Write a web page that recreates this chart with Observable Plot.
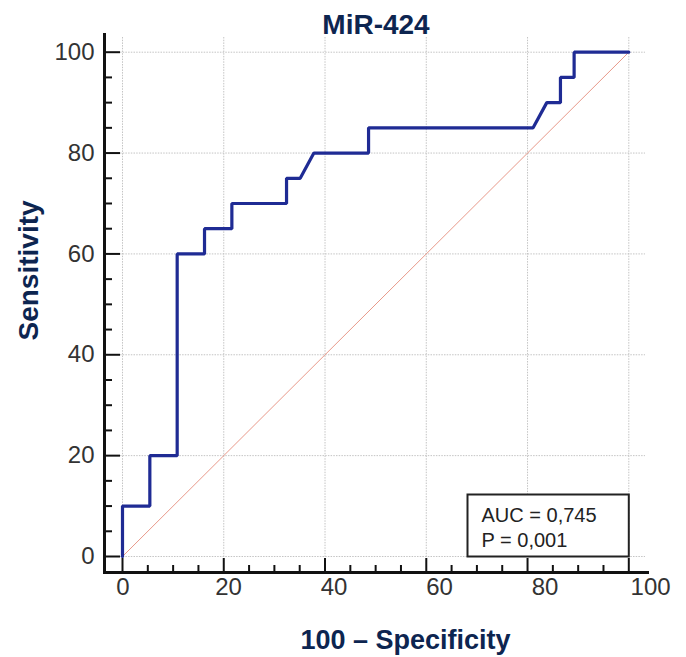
<!DOCTYPE html>
<html><head><meta charset="utf-8">
<script src="https://cdn.jsdelivr.net/npm/d3@7"></script>
<script src="https://cdn.jsdelivr.net/npm/@observablehq/plot@0.6"></script>
<style>body{margin:0;background:#fff} #chart svg{display:block}</style>
</head><body><div id="chart"></div>
<script>
// ROC curve (100 - Specificity, Sensitivity)
const fpr = [0,0,5.4,5.4,10.8,10.8,16.2,16.2,21.6,21.6,32.4,32.4,35.1,37.8,48.6,48.6,81.1,83.8,86.5,86.5,89.2,89.2,100];
const tpr = [0,10,10,20,20,60,60,65,65,70,70,75,75,80,80,85,85,90,90,95,95,100,100];
const diagonal = [0, 100];
const majorTicks = [0,20,40,60,80,100];
const minorTicks = [5,10,15,25,30,35,45,50,55,65,70,75,85,90,95];
const chartTitle = "MiR-424";
const xLabel = "100 – Specificity";
const yLabel = "Sensitivity";
const statLines = ["AUC = 0,745", "P = 0,001"];

const W = 686, H = 657;
const mL = 104, mR = 39, mT = 34, mB = 85;
const frameW = W - mL - mR, frameH = H - mT - mB;
const font = "'Liberation Sans', Arial, Helvetica, sans-serif";
const navy = "#0d2550";

const roc = fpr.map((x, i) => ({x, y: tpr[i]}));

const chart = Plot.plot({
  width: W, height: H,
  marginLeft: mL, marginRight: mR, marginTop: mT, marginBottom: mB,
  style: {fontFamily: font, background: "white"},
  x: {domain: [0, 100], insetLeft: 18, insetRight: 18.7, axis: null},
  y: {domain: [0, 100], insetTop: 17.7, insetBottom: 16, axis: null},
  marks: [
    // grid
    Plot.ruleY(majorTicks, {y: d => d, insetLeft: 16, insetRight: 2, stroke: "#c4c4c4", strokeDasharray: "1.5,1.2"}),
    Plot.ruleX(majorTicks, {x: d => d, insetTop: 3, insetBottom: 14, stroke: "#c4c4c4", strokeDasharray: "1.5,1.2"}),
    // ticks
    Plot.ruleX(majorTicks, {x: d => d, insetTop: frameH - 14, stroke: "#111", strokeWidth: 2}),
    Plot.ruleX(minorTicks, {x: d => d, insetTop: frameH - 7, stroke: "#111", strokeWidth: 2}),
    Plot.ruleY(majorTicks, {y: d => d, insetRight: frameW - 16, stroke: "#111", strokeWidth: 2}),
    Plot.ruleY(minorTicks, {y: d => d, insetRight: frameW - 8, stroke: "#111", strokeWidth: 2}),
    // axis lines
    Plot.frame({anchor: "left", stroke: "#111", strokeWidth: 3}),
    Plot.frame({anchor: "bottom", stroke: "#111", strokeWidth: 3}),
    // tick labels
    Plot.text(majorTicks, {y: d => d, frameAnchor: "left", textAnchor: "end", dx: -10, text: d => String(d), fontSize: 24, fill: "#333"}),
    Plot.text(majorTicks, {x: d => 0.1 + 1.042 * d, frameAnchor: "bottom", dy: 22, text: d => String(d), fontSize: 24, fill: "#333"}),
    // diagonal reference
    Plot.line(diagonal, {x: d => d, y: d => d, stroke: "#e8998a", strokeWidth: 1}),
    // ROC curve
    Plot.line(roc, {x: "x", y: "y", stroke: "#1f2b94", strokeWidth: 3.2, strokeLinejoin: "miter"}),
    // stats box
    Plot.frame({fill: "white", stroke: "#222", strokeWidth: 2, insetLeft: 363, insetRight: 18.7, insetTop: 460, insetBottom: 16}),
    Plot.text([statLines.join("\n")], {frameAnchor: "top-left", textAnchor: "start", lineAnchor: "top", lineHeight: 1.25, dx: 377, dy: 470, fontSize: 20, fill: "#222"}),
    // titles
    Plot.text([chartTitle], {frameAnchor: "top", lineAnchor: "bottom", dy: -1, fontSize: 28, fontWeight: "bold", fill: navy}),
    Plot.text([xLabel], {frameAnchor: "bottom", lineAnchor: "bottom", dx: 29.5, dy: 76, fontSize: 27, fontWeight: "bold", fill: navy}),
    Plot.text([yLabel], {frameAnchor: "left", lineAnchor: "bottom", rotate: -90, dx: -67, dy: 37, fontSize: 28, fontWeight: "bold", fill: navy})
  ]
});
document.getElementById("chart").append(chart);
</script>
</body></html>
